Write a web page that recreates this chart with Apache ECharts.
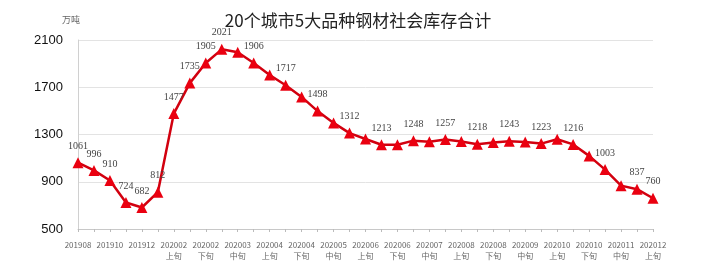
<!DOCTYPE html>
<html>
<head>
<meta charset="utf-8">
<title>20个城市5大品种钢材社会库存合计</title>
<script src="https://cdn.jsdelivr.net/npm/echarts@6/dist/echarts.min.js"></script>
<style>
  html, body { margin: 0; padding: 0; background: #fff; }
  #chart { width: 727px; height: 262px; }
</style>
</head>
<body>
<div id="chart"></div>
<script>
// 横轴类目（月份 / 旬）
const categories = [
  '201908', '201909', '201910', '201911', '201912', '202001',
  '202002\n上旬', '202002\n中旬', '202002\n下旬',
  '202003\n上旬', '202003\n中旬', '202003\n下旬',
  '202004\n上旬', '202004\n中旬', '202004\n下旬',
  '202005\n上旬', '202005\n中旬', '202005\n下旬',
  '202006\n上旬', '202006\n中旬', '202006\n下旬',
  '202007\n上旬', '202007\n中旬', '202007\n下旬',
  '202008\n上旬', '202008\n中旬', '202008\n下旬',
  '202009\n上旬', '202009\n中旬', '202009\n下旬',
  '202010\n上旬', '202010\n中旬', '202010\n下旬',
  '202011\n上旬', '202011\n中旬', '202011\n下旬',
  '202012\n上旬',
]
// 库存合计（万吨）
const stock = [
  1061, 996, 910, 724, 682, 812,
  1477, 1735, 1905, 2021, 1996, 1906,
  1804, 1717, 1618, 1498, 1398, 1312,
  1262, 1213, 1213, 1248, 1238, 1257,
  1240, 1218, 1232, 1243, 1237, 1223,
  1260, 1216, 1119, 1003, 867, 837,
  760,
]
// 图上标了数值的点（原图只标了部分）
const labeled = [0, 1, 2, 3, 4, 5, 6, 7, 8, 9, 11, 13, 15, 17, 19, 21, 23, 25, 27, 29, 31, 33, 35, 36]
// 纵轴刻度
const yMin = 500
const yMax = 2100
const yStep = 400

const myChart = echarts.init(document.getElementById('chart'))

const option = {
  animation: false,
  title: {
    text: '20个城市5大品种钢材社会库存合计',
    left: 353,
    textAlign: 'center',
    top: 7,
    textStyle: {
      fontFamily: 'Noto Sans CJK SC',
      fontSize: 17,
      fontWeight: 'normal',
      color: '#222',
    },
  },
  graphic: [
    {
      type: 'text',
      left: 62,
      top: 15,
      style: { text: '万吨', fontSize: 9, fill: '#666', fontFamily: 'Noto Sans CJK SC' },
    },
  ],
  grid: {
    left: 78,
    right: 74,
    top: 40,
    bottom: 33,
  },
  xAxis: {
    type: 'category',
    data: categories,
    boundaryGap: false,
    axisLine: { lineStyle: { color: '#c8c8c8' } },
    axisTick: { interval: 0, length: 3, lineStyle: { color: '#bbb' } },
    axisLabel: {
      interval: 1,
      fontSize: 8,
      lineHeight: 11,
      color: '#666',
      margin: 10,
      fontFamily: 'Noto Sans CJK SC',
    },
  },
  yAxis: {
    type: 'value',
    min: yMin,
    max: yMax,
    interval: yStep,
    axisLine: { show: true, lineStyle: { color: '#d0d0d0' } },
    axisTick: { show: false },
    splitLine: { lineStyle: { color: '#e3e3e3' } },
    axisLabel: {
      fontSize: 13,
      color: '#111',
      margin: 15,
      fontFamily: 'Liberation Sans',
      formatter: function (v) {
        return String(v)
      },
    },
  },
  series: [
    {
      name: '库存合计',
      type: 'line',
      data: stock,
      symbol: 'triangle',
      symbolSize: 11,
      showAllSymbol: true,
      lineStyle: { color: '#d2000f', width: 2.5 },
      itemStyle: { color: '#ea0010' },
      label: {
        show: true,
        position: 'top',
        distance: 6,
        fontSize: 10,
        color: '#444',
        fontFamily: 'Liberation Serif',
        formatter: function (p) {
          return labeled.indexOf(p.dataIndex) >= 0 ? String(p.value) : ''
        },
      },
    },
  ],
}

myChart.setOption(option)
</script>
</body>
</html>
